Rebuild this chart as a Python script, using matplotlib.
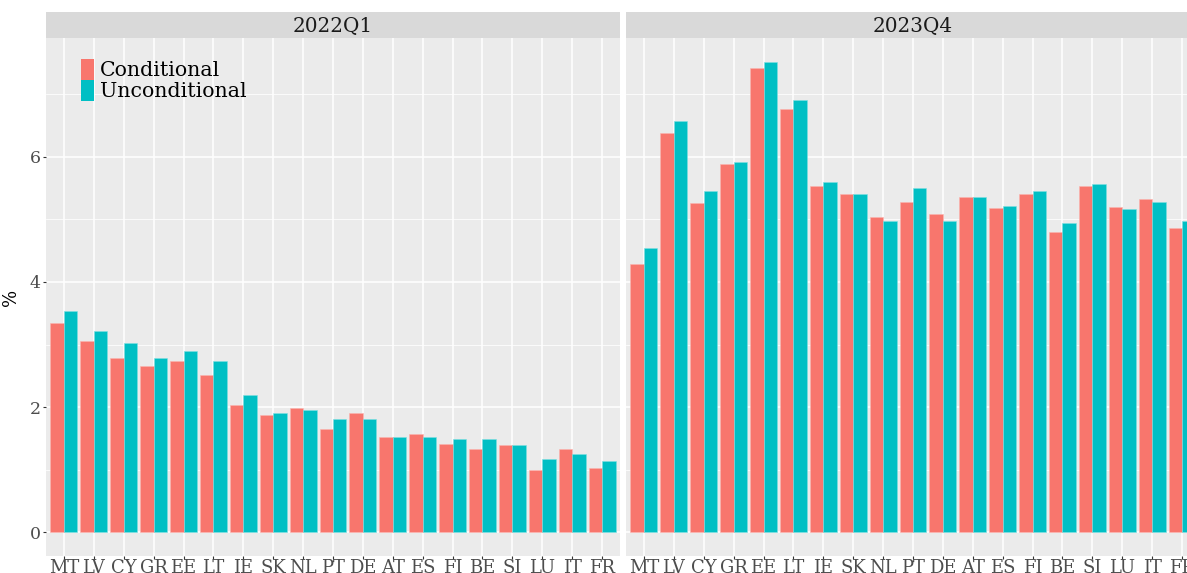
import numpy as np
import matplotlib
matplotlib.use('Agg')
from matplotlib import pyplot as plt
from matplotlib.patches import Patch
from matplotlib.ticker import MultipleLocator

countries = ['MT', 'LV', 'CY', 'GR', 'EE', 'LT', 'IE', 'SK', 'NL', 'PT',
             'DE', 'AT', 'ES', 'FI', 'BE', 'SI', 'LU', 'IT', 'FR']

# 2022Q1
cond_2022q1 = [3.35, 3.06, 2.79, 2.66, 2.73, 2.51, 2.03, 1.88, 1.98, 1.65,
               1.90, 1.52, 1.58, 1.42, 1.33, 1.40, 0.99, 1.33, 1.03]
uncond_2022q1 = [3.54, 3.22, 3.02, 2.78, 2.89, 2.74, 2.20, 1.90, 1.95, 1.81,
                 1.81, 1.52, 1.52, 1.50, 1.49, 1.39, 1.17, 1.25, 1.14]
# 2023Q4
cond_2023q4 = [4.28, 6.38, 5.26, 5.88, 7.41, 6.77, 5.54, 5.41, 5.03, 5.28,
               5.09, 5.36, 5.18, 5.41, 4.80, 5.54, 5.20, 5.32, 4.86]
uncond_2023q4 = [4.54, 6.57, 5.46, 5.91, 7.52, 6.90, 5.60, 5.41, 4.98, 5.50,
                 4.98, 5.36, 5.21, 5.46, 4.94, 5.57, 5.17, 5.28, 4.98]

panels = ['2022Q1', '2023Q4']
series = ['Conditional', 'Unconditional']
colors = ['#F8766D', '#00BFC4']

plt.rcParams['font.family'] = 'DejaVu Serif'

W, H = 1187, 573
fig = plt.figure(figsize=(W / 100, H / 100), dpi=100)

def fx(px):
    return px / W

def fy(py):
    return 1 - py / H

panel_top, panel_bot, strip_top = 38, 556, 12
n = len(countries)
unit = 574 / (n - 1 + 1.2)

# second panel runs past the right edge of the picture, as in the original
boxes = [(46, 620), (626, 1187)]
data = [(cond_2022q1, uncond_2022q1), (cond_2023q4, uncond_2023q4)]
ymax = max(max(uncond_2023q4), max(cond_2023q4))
yr = (-0.05 * ymax, ymax * 1.05)

x = np.arange(n)
for i, (label, (l, r), (c, u)) in enumerate(zip(panels, boxes, data)):
    ax = fig.add_axes([fx(l), fy(panel_bot), fx(r - l), fy(panel_top) - fy(panel_bot)])
    ax.set_facecolor('#EBEBEB')
    for s in ax.spines.values():
        s.set_visible(False)
    w = 0.45
    ax.bar(x - w / 2, c, width=w, color=colors[0], edgecolor='#fbb5b0',
           linewidth=0.4, zorder=3)
    ax.bar(x + w / 2, u, width=w, color=colors[1], edgecolor='#7fdfe1',
           linewidth=0.4, zorder=3)
    ax.set_xlim(-0.6, -0.6 + (r - l) / unit)
    ax.set_ylim(*yr)
    ax.set_xticks(x)
    ax.set_xticklabels(countries)
    ax.yaxis.set_major_locator(MultipleLocator(2))
    ax.yaxis.set_minor_locator(MultipleLocator(1))
    ax.grid(which='major', color='white', linewidth=1.1, zorder=0)
    ax.grid(which='minor', axis='y', color='white', linewidth=0.55, zorder=0)
    ax.set_axisbelow(True)
    ax.tick_params(axis='both', which='major', length=2.2, color='#333333',
                   labelcolor='#4D4D4D', labelsize=12.5, pad=1.5)
    ax.tick_params(axis='x', which='major', labelsize=13, pad=0)
    ax.tick_params(axis='both', which='minor', length=0)
    if i == 0:
        ax.set_ylabel('%', fontsize=13, color='black', labelpad=7)
    else:
        ax.tick_params(axis='y', left=False, labelleft=False)

    # strip
    sax = fig.add_axes([fx(l), fy(panel_top), fx(r - l), fy(strip_top) - fy(panel_top)])
    sax.set_facecolor('#D9D9D9')
    sax.set_xticks([])
    sax.set_yticks([])
    for s in sax.spines.values():
        s.set_visible(False)
    sax.set_xlim(ax.get_xlim())
    sax.set_ylim(0, 1)
    sax.text((n - 1) / 2, 0.45, label, ha='center', va='center',
             fontsize=14.4, color='#1A1A1A')

    if i == 0:
        handles = [Patch(facecolor=col, edgecolor='none') for col in colors]
        ax.legend(handles, series, loc='upper left',
                  bbox_to_anchor=(fx(75), fy(53)), bbox_transform=fig.transFigure,
                  frameon=False, fontsize=14.8, handlelength=0.62, handleheight=1.15,
                  handletextpad=0.3, labelspacing=0.0, borderaxespad=0,
                  borderpad=0.3)

fig.savefig('out.png', dpi=100)
